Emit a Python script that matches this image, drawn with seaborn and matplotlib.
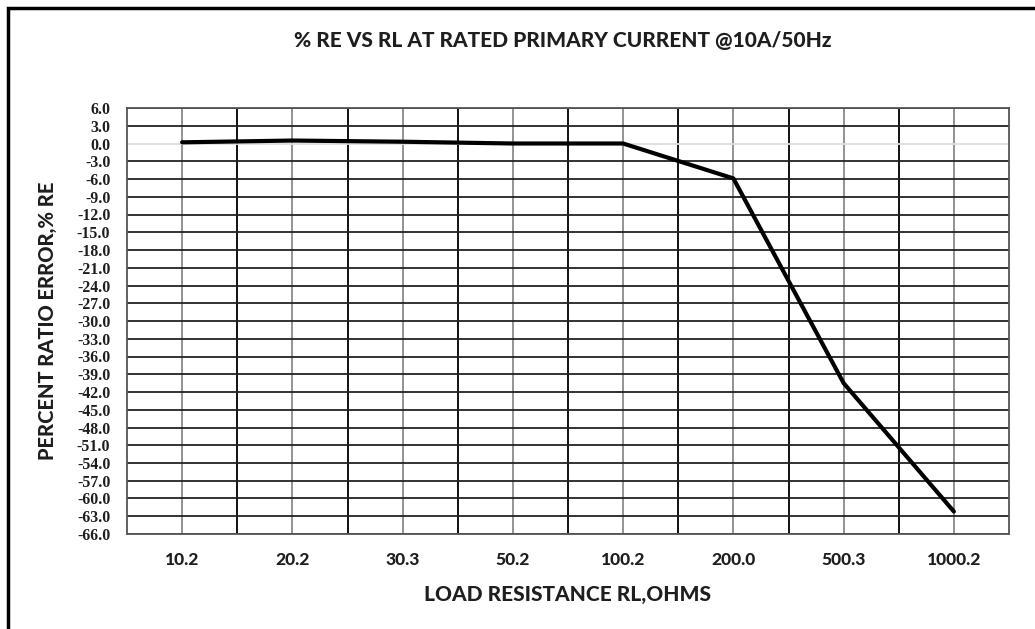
import numpy as np
import pandas as pd
import matplotlib.pyplot as plt
import seaborn as sns
from matplotlib.patches import Rectangle

sns.set_style("white")

load_labels = ["10.2", "20.2", "30.3", "50.2", "100.2", "200.0", "500.3", "1000.2"]
percent_re = [0.2, 0.5, 0.3, 0.0, 0.0, -5.9, -40.5, -62.2]
y_ticks = np.arange(6, -67, -3)

df = pd.DataFrame({"pos": np.arange(len(load_labels)), "re": percent_re})

W, H = 1035, 629
fig = plt.figure(figsize=(W / 100, H / 100), dpi=100)
ax = fig.add_axes([127 / W, 1 - 534 / H, (1009 - 127) / W, (534 - 108) / H])

# outer frame (cropped on right and bottom like the scan)
fig.patches.append(Rectangle((8 / W, -0.05), 1.1, 1 - 8 / H + 0.05, transform=fig.transFigure,
                             fill=False, edgecolor="black", linewidth=2.5))

sns.lineplot(data=df, x="pos", y="re", color="black", linewidth=3, ax=ax)

txt = "#1e1e1e"
ax.set_xlim(-0.5, len(load_labels) - 0.5)
ax.set_ylim(-66, 6)
ax.set_xticks(df["pos"])
ax.set_xticklabels(load_labels, fontfamily="Lato", fontweight="black", fontsize=12.5, color=txt)
ax.set_yticks(y_ticks)
ax.set_yticklabels([f"{v:.1f}" for v in y_ticks], fontfamily="Liberation Serif",
                   fontweight="bold", fontsize=11.4, color=txt)
ax.tick_params(axis="both", which="both", length=0)
ax.tick_params(axis="x", pad=13)
ax.tick_params(axis="y", pad=12)

ax.grid(False)
for p in df["pos"]:
    ax.axvline(p, color="#8a8a8a", linewidth=1.3, zorder=0)
for p in np.arange(0.5, len(load_labels) - 0.5, 1):
    ax.axvline(p, color="#111111", linewidth=1.4, zorder=0)
for v in y_ticks:
    if v == 0:
        ax.axhline(v, color="#dddddd", linewidth=1.3, zorder=0.5)
    else:
        ax.axhline(v, color="#222222", linewidth=1.3, zorder=0)

for s in ax.spines.values():
    s.set_color("#555555")
    s.set_linewidth(1.3)

ax.set_xlabel("LOAD RESISTANCE RL,OHMS", fontfamily="Lato", fontweight="black",
              fontsize=15, color=txt, labelpad=12)
ax.set_ylabel("PERCENT RATIO ERROR,% RE", fontfamily="Lato", fontweight="black",
              fontsize=14.5, color=txt, labelpad=14)
fig.text(563 / W, 1 - 40 / H, "% RE VS RL AT RATED PRIMARY CURRENT @10A/50Hz",
         fontfamily="Lato", fontweight="black", fontsize=15, color=txt,
         ha="center", va="center")

fig.savefig("out.png", dpi=100)
